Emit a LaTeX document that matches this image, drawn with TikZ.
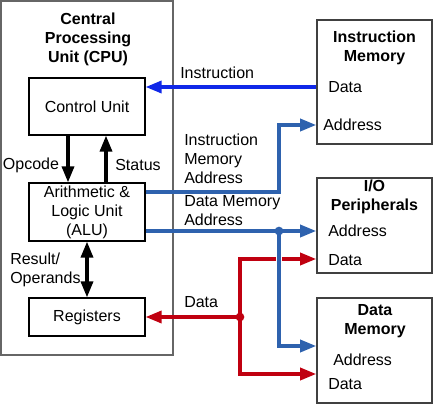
\documentclass[tikz,border=0pt]{standalone}
\usepackage{fontspec}
\setmainfont{Liberation Sans}
\usetikzlibrary{arrows.meta}
\definecolor{instrblue}{RGB}{16,40,232}
\definecolor{addrblue}{RGB}{46,98,174}
\definecolor{datared}{RGB}{192,0,16}
\begin{document}
\begin{tikzpicture}[x=0.75pt,y=-0.75pt,
  every node/.style={font=\fontsize{12}{14.25}\selectfont},
  box/.style={draw=black, line width=0.9pt, minimum width=87pt, inner sep=0pt},
  membox/.style={draw=black!75, line width=1.2pt, minimum width=86.25pt, inner sep=0pt},
  title/.style={align=center, inner sep=0pt, font=\fontsize{12}{14.25}\selectfont\bfseries},
  port/.style={anchor=west, inner sep=0pt},
  note/.style={align=left, anchor=west, inner sep=0pt},
  bus/.style={line width=2.5pt, -{Triangle[length=12pt,width=9pt]}},
  ctrl/.style={bus, black},
  dot/.style={circle, fill, inner sep=0pt, minimum size=6.5pt}]
  \useasboundingbox (0,0) rectangle (433,404);

  % CPU
  \node[draw=black!60, line width=1.2pt, minimum width=129pt, minimum height=265.5pt] (cpu) at (87,178) {};
  \node[title] (cputitle) at (88,39) {Central\\Processing\\Unit (CPU)};
  \node[box, minimum height=42.75pt] (cu) at (87,106.5) {Control Unit};
  \node[box, minimum height=43.5pt, align=center] (alu) at (87,212) {Arithmetic \&\\Logic Unit\\(ALU)};
  \node[box, minimum height=28.5pt] (reg) at (87,317) {Registers};

  % memories and peripherals
  \node[membox, minimum height=93pt] (imem) at (374.5,82) {};
  \node[title] (imemtitle) at (374.5,47.5) {Instruction\\Memory};
  \node[port] (imdata) at (328,87) {Data};
  \node[port] (imaddr) at (323,125) {Address};

  \node[membox, minimum height=71.25pt] (io) at (374.5,225.5) {};
  \node[title] (iotitle) at (374.5,196.5) {I/O\\Peripherals};
  \node[port] (ioaddr) at (328,231) {Address};
  \node[port] (iodata) at (328,260) {Data};

  \node[membox, minimum height=78.75pt] (dmem) at (374.5,350.5) {};
  \node[title] (dmemtitle) at (375,321) {Data\\Memory};
  \node[port] (dmaddr) at (333,360) {Address};
  \node[port] (dmdata) at (328,384) {Data};

  % labels
  \node[note] (lblinstr) at (180,73) {Instruction};
  \node[note] (lblimaddr) at (184,159) {Instruction\\Memory\\Address};
  \node[note] (lbldmaddr) at (184,211) {Data Memory\\Address};
  \node[note] (lbldata) at (184,302) {Data};
  \node (lblop) at (31,165) {Opcode};
  \node (lblst) at (138,165) {Status};
  \node[note] (lblres) at (10,270) {Result/\\Operands};

  % internal connectors
  \draw[ctrl] (cu.south -| 68,0) -- (alu.north -| 68,0);
  \draw[ctrl] (alu.north -| 106,0) -- (cu.south -| 106,0);
  \draw[ctrl, {Triangle[length=12pt,width=9pt]}-{Triangle[length=12pt,width=9pt]}] (alu.south) -- (reg.north);

  % buses
  \coordinate (iabend) at (279,125);
  \coordinate (split) at (279,231);
  \coordinate (rsplit) at (240,317);
  \draw[bus, instrblue] (imem.west |- imdata) -- (cu.east |- imdata);
  \draw[bus, addrblue] (alu.east |- 0,192) -| (iabend) -- (imem.west |- iabend);

  \draw[bus, datared] (rsplit) -- (reg.east);
  \draw[bus, datared] (rsplit) |- (io.west |- 0,259);
  \draw[bus, datared] (rsplit) |- (dmem.west |- 0,374);
  \node[dot, datared] at (rsplit) {};

  \draw[bus, addrblue] (alu.east |- split) -- (io.west |- split);
  \draw[white, line width=4.8pt] (split) -- (279,340);
  \draw[bus, addrblue] (split) |- (dmem.west |- 0,346);
  \node[dot, addrblue] at (split) {};
\end{tikzpicture}
\end{document}
